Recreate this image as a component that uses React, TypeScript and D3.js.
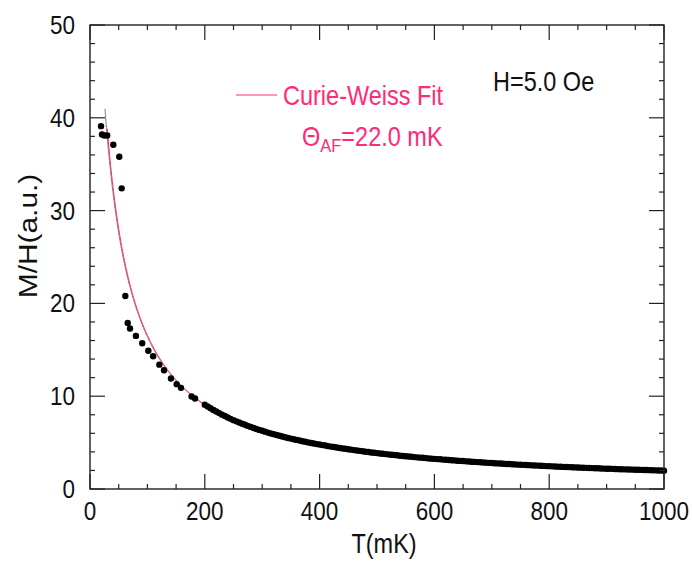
import React from "react";
import * as d3 from "d3";

// Measured susceptibility M/H vs temperature (mK), sparse low-temperature part
const lowTempK = [19.2, 20.9, 25, 30, 40.6, 51, 55.2, 61.5, 65.7, 69.7, 80, 91, 101.6, 110, 120.8, 129, 141, 151, 158.5, 177, 183];
const lowTempChi = [39.1, 38.2, 38.1, 38.1, 37.1, 35.8, 32.4, 20.8, 17.9, 17.3, 16.5, 15.7, 14.9, 14.3, 13.4, 12.8, 11.9, 11.3, 10.9, 9.96, 9.75];

// Dense sweep from 200 mK to 1000 mK in 5 mK steps
const denseStartK = 200;
const denseStepK = 5;
const denseChi = [
  9.08, 8.89, 8.70, 8.52, 8.35, 8.18, 8.01, 7.86, 7.71, 7.56, 7.42, 7.29, 7.16, 7.04, 6.92, 6.80, 6.69, 6.58, 6.47, 6.37,
  6.27, 6.18, 6.08, 5.99, 5.91, 5.82, 5.74, 5.66, 5.58, 5.50, 5.43, 5.36, 5.29, 5.22, 5.15, 5.09, 5.02, 4.96, 4.90, 4.84,
  4.79, 4.73, 4.68, 4.62, 4.57, 4.52, 4.47, 4.42, 4.37, 4.33, 4.28, 4.24, 4.19, 4.15, 4.11, 4.06, 4.02, 3.98, 3.94, 3.91,
  3.87, 3.83, 3.80, 3.76, 3.73, 3.69, 3.66, 3.63, 3.59, 3.56, 3.53, 3.50, 3.47, 3.44, 3.41, 3.38, 3.36, 3.33, 3.30, 3.27,
  3.25, 3.22, 3.20, 3.17, 3.15, 3.12, 3.10, 3.08, 3.05, 3.03, 3.01, 2.98, 2.96, 2.94, 2.92, 2.90, 2.88, 2.86, 2.84, 2.82,
  2.80, 2.78, 2.76, 2.74, 2.72, 2.70, 2.69, 2.67, 2.65, 2.63, 2.62, 2.60, 2.58, 2.57, 2.55, 2.53, 2.52, 2.50, 2.49, 2.47,
  2.46, 2.44, 2.43, 2.41, 2.40, 2.38, 2.37, 2.36, 2.34, 2.33, 2.32, 2.30, 2.29, 2.28, 2.26, 2.25, 2.24, 2.23, 2.21, 2.20,
  2.19, 2.18, 2.17, 2.16, 2.14, 2.13, 2.12, 2.11, 2.10, 2.09, 2.08, 2.07, 2.06, 2.05, 2.04, 2.03, 2.02, 2.01, 2.00, 1.99, 1.98,
];
const denseTempK = denseChi.map((_, i) => denseStartK + i * denseStepK);

// Curie-Weiss fit parameters: chi = C / (T + Theta_AF)
const THETA_AF = 22.0;
const CURIE_C = 2020;

const xMajorTicks = [0, 200, 400, 600, 800, 1000];
const yMajorTicks = [0, 10, 20, 30, 40, 50];

const W = 692;
const H = 562;
const M = { left: 90, right: 664, top: 25, bottom: 489 };
const FONT = "'Liberation Sans', Arial, sans-serif";
const PINK = "#ff2a78";
const INK = "#111";
const STRETCH = 1.15;

type LabelProps = {
  x: number;
  y: number;
  size: number;
  anchor?: "start" | "middle" | "end";
  fill?: string;
  dy?: string;
  children: React.ReactNode;
};

// Horizontal label with the slightly tall letterforms used throughout the figure
function Label({ x, y, size, anchor = "start", fill = INK, dy, children }: LabelProps) {
  return (
    <text
      transform={`translate(${x},${y}) scale(1,${STRETCH})`}
      dy={dy}
      textAnchor={anchor}
      fontFamily={FONT}
      fontSize={size}
      fill={fill}
    >
      {children}
    </text>
  );
}

export default function App() {
  const x = d3.scaleLinear().domain([0, 1000]).range([M.left, M.right]);
  const y = d3.scaleLinear().domain([0, 50]).range([M.bottom, M.top]);

  const xMinor = d3.range(0, 1000.1, 50).filter((v) => v % 200 !== 0);
  const yMinor = d3.range(0, 50.1, 2).filter((v) => v % 10 !== 0);

  const cw = (t: number) => CURIE_C / (t + THETA_AF);
  const line = d3
    .line<number>()
    .x((t) => x(t))
    .y((t) => y(cw(t)));
  const grayT = [27.3, ...d3.range(28, 1000.5, 1)];
  const pinkT = d3.range(30, 1000.5, 1);

  const points = [
    ...lowTempK.map((t, i) => [t, lowTempChi[i]]),
    ...denseTempK.map((t, i) => [t, denseChi[i]]),
  ];

  const axisColor = "#222";

  return (
    <div style={{ position: "absolute", left: 0, top: 0 }}>
      <svg width={W} height={H} style={{ display: "block", background: "#fff" }}>
        <defs>
          <clipPath id="plot">
            <rect x={M.left} y={M.top} width={M.right - M.left} height={M.bottom - M.top} />
          </clipPath>
        </defs>

        {/* fit curves */}
        <g clipPath="url(#plot)">
          <path d={line(grayT) || ""} fill="none" stroke="#808080" strokeWidth={1} transform="translate(-0.7,0)" />
          <path d={line(pinkT) || ""} fill="none" stroke={PINK} strokeWidth={1} />
        </g>

        {/* data points */}
        <g fill="#000">
          {points.map(([t, v], i) => (
            <circle key={i} cx={x(t)} cy={y(v)} r={3.2} />
          ))}
        </g>

        {/* frame */}
        <rect
          x={M.left}
          y={M.top}
          width={M.right - M.left}
          height={M.bottom - M.top}
          fill="none"
          stroke={axisColor}
          strokeWidth={1.4}
        />

        {/* ticks on all four sides, pointing inward */}
        <g stroke={axisColor} strokeWidth={1.2}>
          {xMajorTicks.map((t) => (
            <g key={"xM" + t}>
              <line x1={x(t)} x2={x(t)} y1={M.bottom} y2={M.bottom - 15} />
              <line x1={x(t)} x2={x(t)} y1={M.top} y2={M.top + 15} />
            </g>
          ))}
          {xMinor.map((t) => (
            <g key={"xm" + t}>
              <line x1={x(t)} x2={x(t)} y1={M.bottom} y2={M.bottom - 5} />
              <line x1={x(t)} x2={x(t)} y1={M.top} y2={M.top + 5} />
            </g>
          ))}
          {yMajorTicks.map((v) => (
            <g key={"yM" + v}>
              <line x1={M.left} x2={M.left + 15} y1={y(v)} y2={y(v)} />
              <line x1={M.right} x2={M.right - 15} y1={y(v)} y2={y(v)} />
            </g>
          ))}
          {yMinor.map((v) => (
            <g key={"ym" + v}>
              <line x1={M.left} x2={M.left + 5} y1={y(v)} y2={y(v)} />
              <line x1={M.right} x2={M.right - 5} y1={y(v)} y2={y(v)} />
            </g>
          ))}
        </g>

        {/* tick labels */}
        {xMajorTicks.map((t) => (
          <Label key={"xl" + t} x={x(t)} y={520} size={22.5} anchor="middle">
            {t}
          </Label>
        ))}
        {yMajorTicks.map((v) => (
          <Label key={"yl" + v} x={75} y={y(v) + 9} size={22.5} anchor="end">
            {v}
          </Label>
        ))}

        {/* axis titles */}
        <Label x={384} y={553} size={23.5} anchor="middle">
          T(mK)
        </Label>
        <text
          transform={`translate(37,236) rotate(-90) scale(${STRETCH},1)`}
          textAnchor="middle"
          fontFamily={FONT}
          fontSize={26}
          fill={INK}
        >
          M/H(a.u.)
        </text>

        {/* annotations */}
        <line x1={236} x2={277} y1={95} y2={95} stroke={PINK} strokeWidth={1} />
        <Label x={283} y={105} size={23.5} fill={PINK}>
          Curie-Weiss Fit
        </Label>
        <Label x={302} y={146} size={23.5} fill={PINK}>
          Θ
          <tspan fontSize={16.5} dy={5}>AF</tspan>
          <tspan dy={-5}>=22.0 mK</tspan>
        </Label>
        <Label x={493} y={91} size={23.5}>
          H=5.0 Oe
        </Label>
      </svg>
    </div>
  );
}
